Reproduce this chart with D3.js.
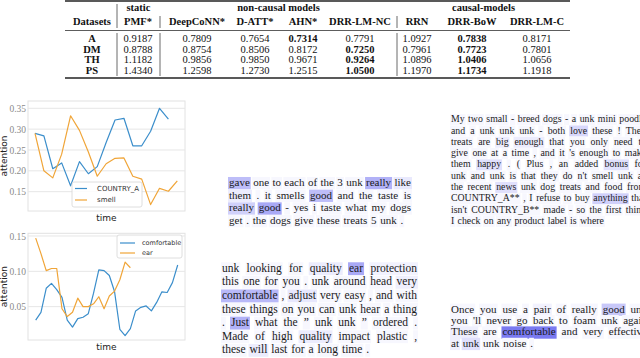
<!DOCTYPE html>
<html>
<head>
<meta charset="utf-8">
<script src="https://cdn.jsdelivr.net/npm/d3@7"></script>
<style>
  body { margin: 0; background: #fff; }
  svg { display: block; }
</style>
</head>
<body>
<svg id="fig" width="640" height="358"></svg>
<script>
// ---- table data
const datasets = ["A", "DM", "TH", "PS"];
const models = ["PMF*", "DeepCoNN*", "D-ATT*", "AHN*", "DRR-LM-NC", "RRN", "DRR-BoW", "DRR-LM-C"];
const mseA = [0.9187, 0.7809, 0.7654, 0.7314, 0.7791, 1.0927, 0.7838, 0.8171];
const mseDM = [0.8788, 0.8754, 0.8506, 0.8172, 0.7250, 0.7961, 0.7723, 0.7801];
const mseTH = [1.1182, 0.9856, 0.9850, 0.9671, 0.9264, 1.0896, 1.0406, 1.0656];
const msePS = [1.4340, 1.2598, 1.2730, 1.2515, 1.0500, 1.1970, 1.1734, 1.1918];
const boldCells = [[3, 6], [4, 6], [4, 6], [4, 6]];
const groups = [
  { label: "static", first: 0, last: 0 },
  { label: "non-causal models", first: 1, last: 4 },
  { label: "causal-models", first: 5, last: 7 }
];

// ---- attention curves
const country = [0.290, 0.284, 0.205, 0.219, 0.164, 0.222, 0.193, 0.210, 0.268, 0.322, 0.326, 0.260, 0.260, 0.295, 0.350, 0.324];
const smell = [0.290, 0.200, 0.183, 0.240, 0.332, 0.297, 0.245, 0.187, 0.217, 0.230, 0.231, 0.187, 0.180, 0.119, 0.158, 0.151, 0.176];
const comfortable = [0.031, 0.042, 0.076, 0.083, 0.074, 0.063, 0.031, 0.021, 0.033, 0.035, 0.040, 0.069, 0.102, 0.101,
  0.094, 0.071, 0.018, 0.009, 0.019, 0.044, 0.049, 0.051, 0.044, 0.056, 0.071, 0.070, 0.084, 0.109];
const ear = [0.147, 0.125, 0.101, 0.104, 0.104, 0.047, 0.036, 0.042, 0.062, 0.050, 0.050, 0.054, 0.064, 0.047,
  0.065, 0.072, 0.088, 0.113, 0.105];
const ticks1 = [0.15, 0.20, 0.25, 0.30, 0.35];
const ticks2 = [0.05, 0.10, 0.15];

// ---- review texts, highlights as [line, word, weight]
const review1 = [
  "gave one to each of the 3 unk really like",
  "them . it smells good and the taste is",
  "really good - yes i taste what my dogs",
  "get . the dogs give these treats 5 unk ."
];
const review1Hl = [[0, 0, 0.42], [0, 8, 0.5], [0, 9, 0.14], [1, 0, 0.12], [1, 4, 0.42], [2, 0, 0.3], [2, 1, 0.55]];
const review2 = [
  "unk looking for quality ear protection",
  "this one for you . unk around head very",
  "comfortable , adjust very easy , and with",
  "these things on you can unk hear a thing",
  ". Just what the \u201d unk unk \u201d ordered .",
  "Made of high quality impact plastic ,",
  "these will last for a long time ."
];
const review2Hl = [[0, 3, 0.12], [0, 4, 0.55], [0, 5, 0.08], [1, 8, 0.1], [2, 0, 0.45], [2, 2, 0.15], [4, 1, 0.5], [5, 3, 0.12], [6, 1, 0.12]];
const review3 = [
  "My two small - breed dogs - a unk mini poodle",
  "and a unk unk unk - both love these ! They",
  "treats are big enough that you only need to",
  "give one at a time , and it 's enough to make",
  "them happy . ( Plus , an added bonus for",
  "unk and unk is that they do n't smell unk as",
  "the recent news unk dog treats and food from",
  "COUNTRY_A** , I refuse to buy anything that",
  "isn't COUNTRY_B** made - so the first thing",
  "I check on any product label is where"
];
const review3Hl = [[1, 7, 0.25], [2, 2, 0.12], [2, 3, 0.12], [4, 1, 0.2], [4, 8, 0.2], [6, 2, 0.2], [7, 6, 0.3]];
const review4 = [
  "Once you use a pair of really good unk",
  "you 'll never go back to foam unk again",
  "These are comfortable and very effective",
  "at unk unk noise ."
];
const review4Hl = [[0, 4, 0.08], [0, 6, 0.06], [0, 7, 0.35], [2, 0, 0.1], [2, 2, 0.85], [3, 0, 0.1], [3, 1, 0.2]];

const svg = d3.select("#fig");
svg.append("rect").attr("width", 640).attr("height", 358).attr("fill", "#fff");

// ================= table
const serif = "Liberation Serif, Times New Roman, serif";
const colX = [138, 197, 255, 303, 360, 417, 472, 537];
const vLines = [117, 160, 397];
const tableLeft = 65, tableRight = 570, datasetX = 92;
const edges = [117, 160, 226, 280, 326, 397, 445, 500, 570];
const rows = [mseA, mseDM, mseTH, msePS];
const rowY = d3.scalePoint().domain(datasets).range([38.5, 70]);

const table = svg.append("g").attr("font-family", serif).attr("fill", "#111");
table.append("line").attr("x1", tableLeft).attr("x2", tableRight).attr("y1", 1).attr("y2", 1)
  .attr("stroke", "#222").attr("stroke-width", 1.4);
table.append("line").attr("x1", tableLeft).attr("x2", tableRight).attr("y1", 30.5).attr("y2", 30.5)
  .attr("stroke", "#333").attr("stroke-width", 0.8);
table.append("line").attr("x1", tableLeft).attr("x2", tableRight).attr("y1", 78).attr("y2", 78)
  .attr("stroke", "#222").attr("stroke-width", 1.4);
vLines.forEach((x, i) => {
  table.append("line").attr("x1", x).attr("x2", x).attr("y1", i === 0 ? 4 : 16).attr("y2", 28)
    .attr("stroke", "#444").attr("stroke-width", 0.8);
  table.append("line").attr("x1", x).attr("x2", x).attr("y1", 33).attr("y2", 76)
    .attr("stroke", "#444").attr("stroke-width", 0.8);
});

table.selectAll("text.group").data(groups).join("text").attr("class", "group")
  .attr("x", d => (edges[d.first] + edges[d.last + 1]) / 2).attr("y", 11)
  .attr("text-anchor", "middle").attr("font-size", 10.5).attr("font-weight", "bold").text(d => d.label);

table.append("text").attr("x", datasetX).attr("y", 25).attr("text-anchor", "middle")
  .attr("font-size", 10.5).attr("font-weight", "bold").text("Datasets");
table.selectAll("text.model").data(models).join("text").attr("class", "model")
  .attr("x", (d, i) => colX[i]).attr("y", 25).attr("text-anchor", "middle")
  .attr("font-size", 10.5).attr("font-weight", "bold").text(d => d);

rows.forEach((vals, r) => {
  const y = rowY(datasets[r]) + 3.5;
  table.append("text").attr("x", datasetX).attr("y", y).attr("text-anchor", "middle")
    .attr("font-size", 10.5).attr("font-weight", "bold").text(datasets[r]);
  table.selectAll(null).data(vals).join("text")
    .attr("x", (d, i) => colX[i]).attr("y", y).attr("text-anchor", "middle").attr("font-size", 10.5)
    .attr("font-weight", (d, i) => boldCells[r].includes(i) ? "bold" : "normal")
    .text(d => d.toFixed(4));
});

// ================= line charts
const blue = "#3b8ecb", orange = "#f0a538";
const sans = "DejaVu Sans, sans-serif";

function lineChart(o) {
  const g = svg.append("g");
  const x = d3.scaleLinear().domain([0, o.n - 1]).range([o.x0, o.x1]);
  const y = d3.scaleLinear().domain(o.yDomain).range([o.bottom, o.top]);

  g.append("rect").attr("x", o.left).attr("y", o.top).attr("width", o.right - o.left)
    .attr("height", o.bottom - o.top).attr("fill", "none").attr("stroke", "#e2e2e2").attr("stroke-width", 1);
  g.append("g").selectAll("line").data(o.ticks).join("line")
    .attr("x1", o.left).attr("x2", o.right).attr("y1", d => y(d)).attr("y2", d => y(d))
    .attr("stroke", "#e6e6e6").attr("stroke-width", 1);

  const axis = g.append("g").attr("transform", `translate(${o.left},0)`)
    .call(d3.axisLeft(y).tickValues(o.ticks).tickSize(0).tickPadding(2).tickFormat(d3.format(".2f")));
  axis.select(".domain").remove();
  axis.selectAll("text").attr("font-family", serif).attr("font-size", 9.5).attr("fill", "#8a8a8a");

  const line = d3.line().x((d, i) => x(i)).y(d => y(d));
  o.series.forEach(s => {
    g.append("path").datum(s.values).attr("d", line).attr("fill", "none")
      .attr("stroke", s.color).attr("stroke-width", 1.2).attr("stroke-linejoin", "round");
  });

  g.append("text").attr("transform", `translate(7,${(o.top + o.bottom) / 2}) rotate(-90)`)
    .attr("text-anchor", "middle").attr("font-family", sans).attr("font-size", 9).attr("fill", "#222")
    .text("attention");
  g.append("text").attr("x", (o.left + o.right) / 2).attr("y", o.bottom + 9.5).attr("text-anchor", "middle")
    .attr("font-family", sans).attr("font-size", 9).attr("fill", "#222").text("time");

  const lg = g.append("g").attr("transform", `translate(${o.legend.x},${o.legend.y})`);
  lg.append("rect").attr("width", o.legend.w).attr("height", o.legend.h).attr("rx", 2)
    .attr("fill", "#fff").attr("fill-opacity", 0.85).attr("stroke", "#d6d6d6").attr("stroke-width", 0.8);
  o.series.forEach((s, i) => {
    const ly = o.legend.pad + i * o.legend.step;
    lg.append("line").attr("x1", 3).attr("x2", 3 + o.legend.sw).attr("y1", ly).attr("y2", ly)
      .attr("stroke", s.color).attr("stroke-width", 1.2);
    lg.append("text").attr("x", o.legend.tx).attr("y", ly + 2.3).attr("font-family", sans)
      .attr("font-size", o.legend.fs).attr("fill", "#333").text(s.name);
  });
}

lineChart({
  n: 17, x0: 35, x1: 177.3, left: 28, right: 185, top: 101, bottom: 211,
  yDomain: [0.1036, 0.3675], ticks: ticks1,
  series: [{ name: "COUNTRY_A", values: country, color: blue }, { name: "smell", values: smell, color: orange }],
  legend: { x: 72, y: 182, w: 70, h: 25, pad: 6.5, step: 11.5, sw: 12, tx: 25, fs: 7 }
});
lineChart({
  n: 28, x0: 35.7, x1: 177.7, left: 28, right: 185, top: 233.3, bottom: 340,
  yDomain: [0.0028, 0.1538], ticks: ticks2,
  series: [{ name: "comfortable", values: comfortable, color: blue }, { name: "ear", values: ear, color: orange }],
  legend: { x: 117, y: 235, w: 65, h: 23, pad: 8, step: 10, sw: 15, tx: 25, fs: 6.5 }
});

// ================= highlighted review texts
const hlColor = d3.scaleLinear().domain([0, 1]).range(["#ffffff", "#6262ef"]).interpolate(d3.interpolateRgb);
const baseWeight = 0.05;

function reviewPanel(lines, highlights, o) {
  const g = svg.append("g").attr("font-family", serif).attr("font-size", o.fs).attr("fill", "#1a1a1a");
  const weight = new Map(highlights.map(([l, i, w]) => [l + ":" + i, w]));
  lines.forEach((line, li) => {
    const words = line.split(" ");
    const base = o.y + li * o.lh;
    const row = g.append("g");
    const boxes = row.append("g");
    const texts = row.selectAll("text").data(words).join("text").attr("y", base).text(d => d);
    const widths = texts.nodes().map(n => n.getComputedTextLength());
    const isLast = li === lines.length - 1;
    const gap = isLast ? o.fs * 0.34 : (o.w - d3.sum(widths)) / (words.length - 1);
    let cx = o.x;
    const xs = widths.map(w => { const p = cx; cx += w + gap; return p; });
    texts.attr("x", (d, i) => xs[i]);
    boxes.selectAll("rect").data(words).join("rect")
      .attr("x", (d, i) => xs[i] - 1).attr("y", base - o.fs * 0.82)
      .attr("width", (d, i) => widths[i] + 2).attr("height", o.fs * 1.12)
      .attr("fill", (d, i) => hlColor(weight.get(li + ":" + i) ?? baseWeight));
  });
}

reviewPanel(review1, review1Hl, { x: 229, y: 186, lh: 12.67, fs: 11, w: 182 });
reviewPanel(review2, review2Hl, { x: 222, y: 271.7, lh: 13.6, fs: 11.5, w: 195 });
reviewPanel(review3, review3Hl, { x: 451, y: 122.2, lh: 11.3, fs: 9.8, w: 195 });
reviewPanel(review4, review4Hl, { x: 451, y: 312.6, lh: 11.4, fs: 11, w: 196 });
</script>
</body>
</html>
